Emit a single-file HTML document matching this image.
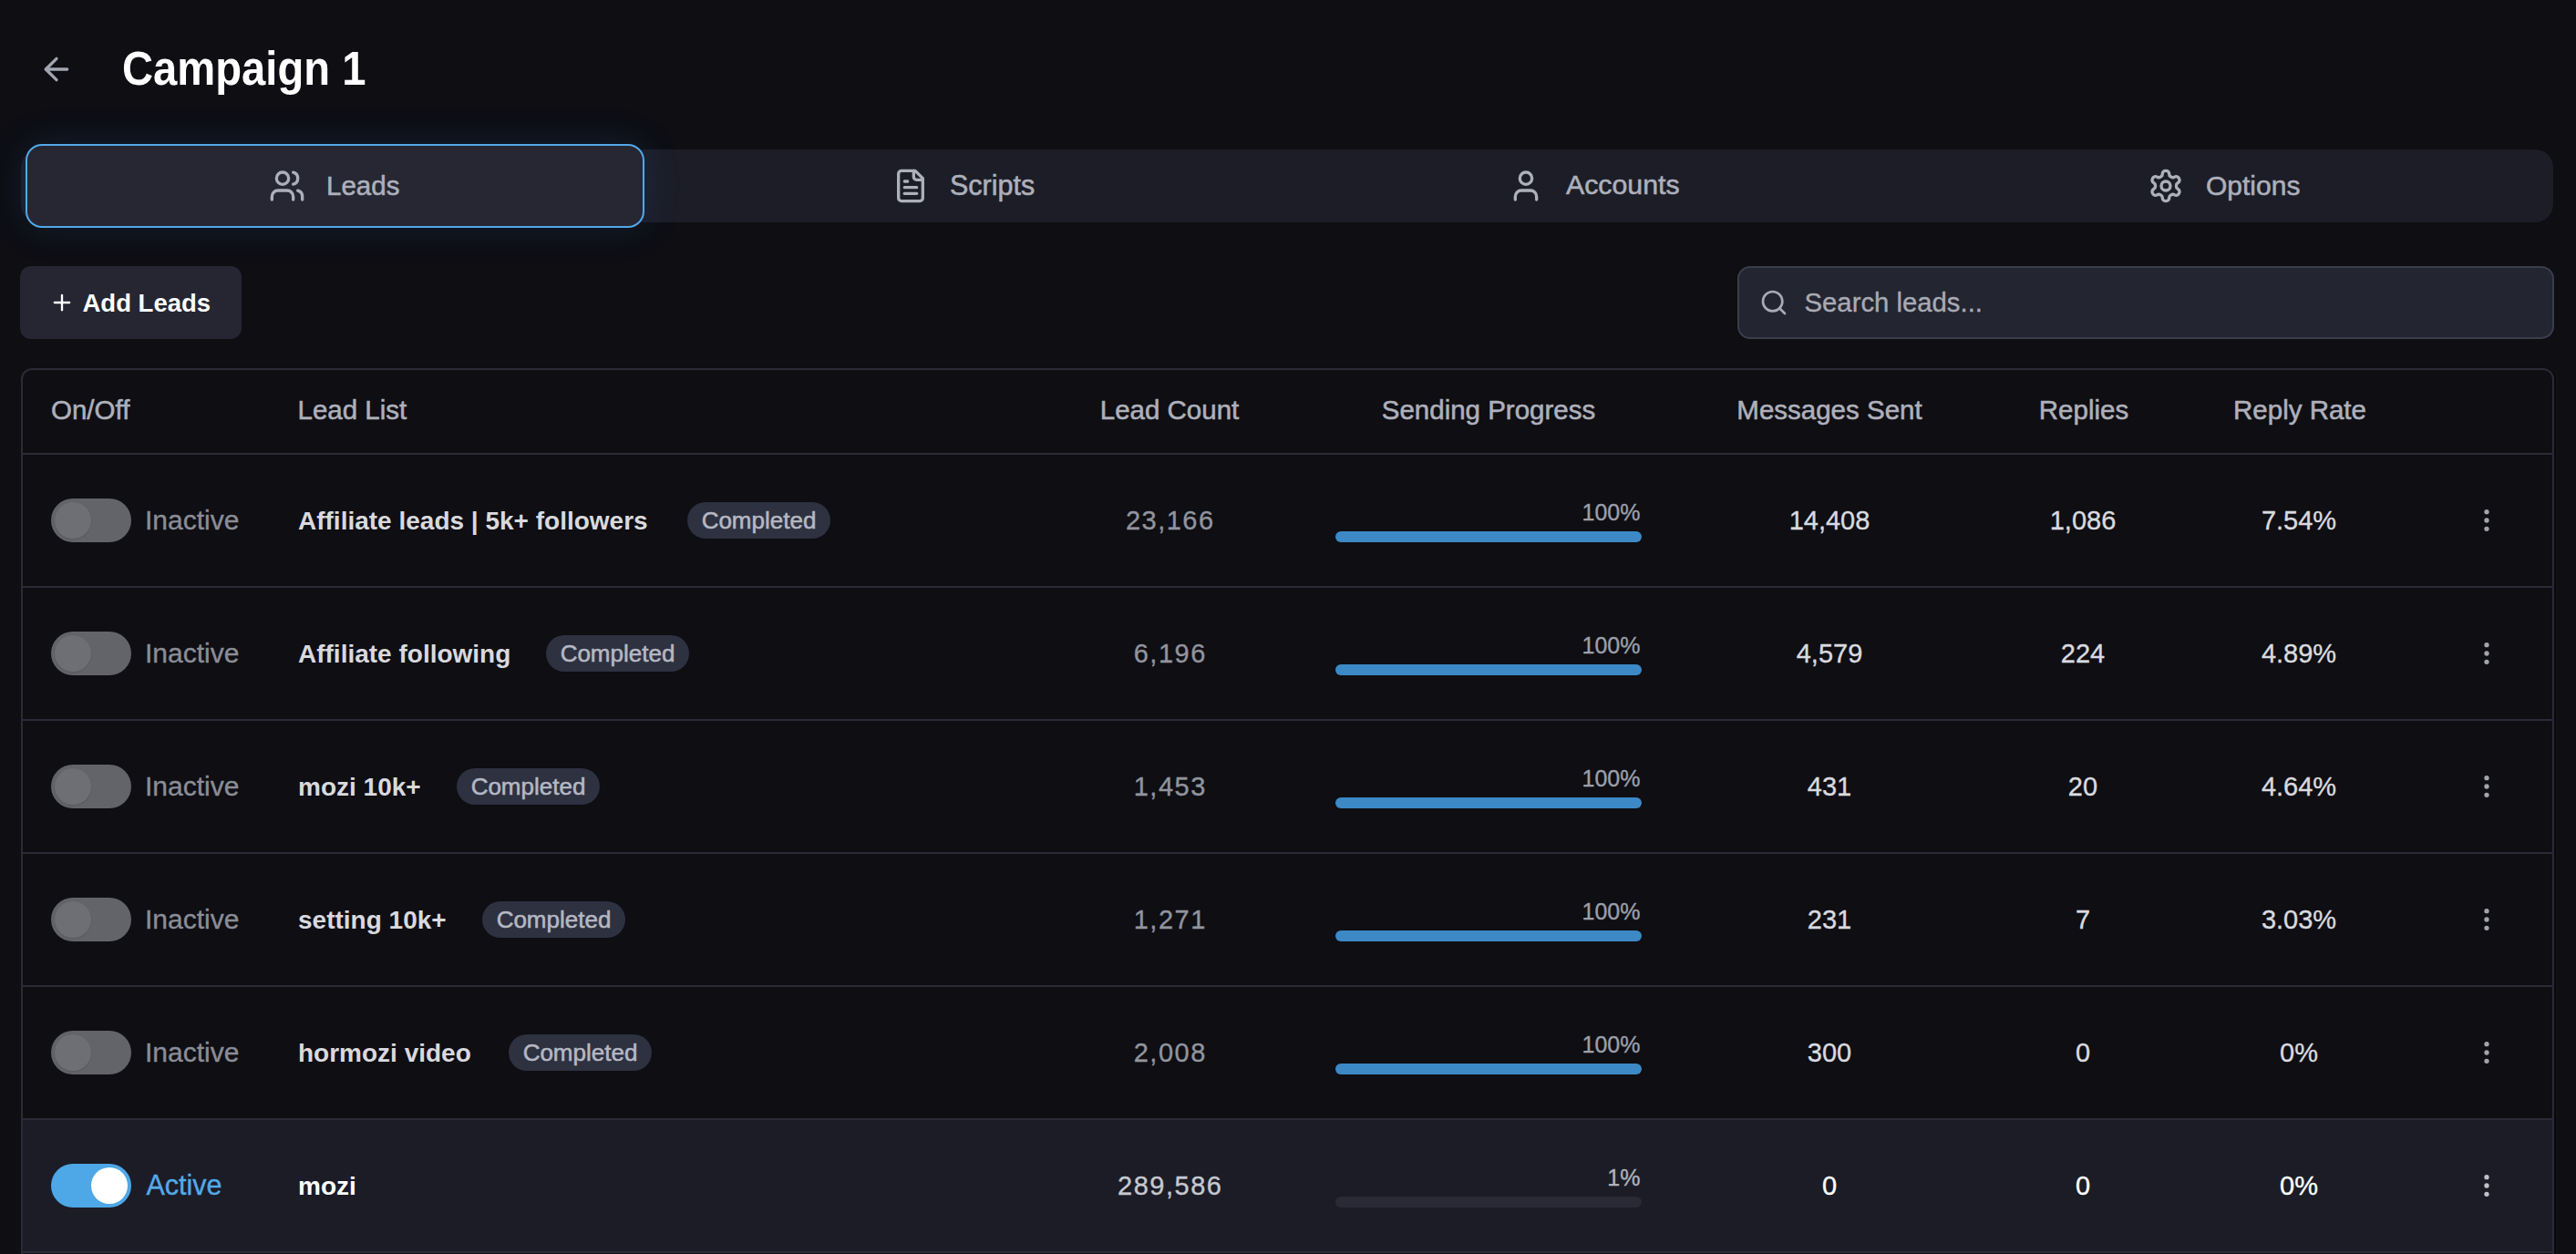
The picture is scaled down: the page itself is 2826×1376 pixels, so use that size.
<!DOCTYPE html>
<html><head><meta charset="utf-8"><title>Campaign 1</title><style>
*{box-sizing:border-box;margin:0;padding:0}
html,body{width:2826px;height:1376px;overflow:hidden;background:#0e0e13;font-family:"Liberation Sans",sans-serif}
.a{position:absolute;white-space:pre;line-height:1}
.ic{position:absolute;fill:none;stroke-linecap:round;stroke-linejoin:round}
</style></head>
<body>
<svg class="ic" style="left:41.5px;top:56px" width="40" height="40" viewBox="0 0 24 24" stroke="#a3a5b0" stroke-width="2"><path d="m12 19-7-7 7-7"/><path d="M19 12H5"/></svg>
<div class="a" style="left:134.0px;top:53.3px;font-size:47.2px;color:#ffffff;font-weight:700;transform:scaleY(1.08);transform-origin:0 39.6px;">Campaign 1</div>
<div style="position:absolute;left:23px;top:164px;width:2778px;height:80px;border-radius:20px;background:#1c1d27"></div>
<div style="position:absolute;left:28px;top:158px;width:679px;height:92px;border-radius:18px;background:#262733;border:2.5px solid #53a8e8;box-shadow:0 0 40px rgba(40,110,200,0.18)"></div>
<svg class="ic" style="left:295px;top:183.5px" width="40" height="40" viewBox="0 0 24 24" stroke="#adb0bb" stroke-width="2"><path d="M16 21v-2a4 4 0 0 0-4-4H6a4 4 0 0 0-4 4v2"/><circle cx="9" cy="7" r="4"/><path d="M22 21v-2a4 4 0 0 0-3-3.87"/><path d="M16 3.13a4 4 0 0 1 0 7.75"/></svg>
<div class="a" style="left:358.0px;top:189.0px;font-size:29.5px;color:#adb0bb;font-weight:400;-webkit-text-stroke:0.55px currentColor;">Leads</div>
<svg class="ic" style="left:979px;top:183.5px" width="40" height="40" viewBox="0 0 24 24" stroke="#adb0bb" stroke-width="2"><path d="M15 2H6a2 2 0 0 0-2 2v16a2 2 0 0 0 2 2h12a2 2 0 0 0 2-2V7Z"/><path d="M14 2v4a2 2 0 0 0 2 2h4"/><path d="M10 9H8"/><path d="M16 13H8"/><path d="M16 17H8"/></svg>
<div class="a" style="left:1042.0px;top:188.2px;font-size:30.5px;color:#adb0bb;font-weight:400;-webkit-text-stroke:0.55px currentColor;">Scripts</div>
<svg class="ic" style="left:1654px;top:183.5px" width="40" height="40" viewBox="0 0 24 24" stroke="#adb0bb" stroke-width="2"><path d="M19 21v-2a4 4 0 0 0-4-4H9a4 4 0 0 0-4 4v2"/><circle cx="12" cy="7" r="4"/></svg>
<div class="a" style="left:1718.0px;top:188.4px;font-size:30.3px;color:#adb0bb;font-weight:400;-webkit-text-stroke:0.55px currentColor;">Accounts</div>
<svg class="ic" style="left:2356px;top:183.5px" width="40" height="40" viewBox="0 0 24 24" stroke="#adb0bb" stroke-width="2"><path d="M12.22 2h-.44a2 2 0 0 0-2 2v.18a2 2 0 0 1-1 1.73l-.43.25a2 2 0 0 1-2 0l-.15-.08a2 2 0 0 0-2.73.73l-.22.38a2 2 0 0 0 .73 2.73l.15.1a2 2 0 0 1 1 1.72v.51a2 2 0 0 1-1 1.74l-.15.09a2 2 0 0 0-.73 2.73l.22.38a2 2 0 0 0 2.730.73l.15-.08a2 2 0 0 1 2 0l.43.25a2 2 0 0 1 1 1.73V20a2 2 0 0 0 2 2h.44a2 2 0 0 0 2-2v-.18a2 2 0 0 1 1-1.73l.43-.25a2 2 0 0 1 2 0l.15.08a2 2 0 0 0 2.73-.73l.22-.39a2 2 0 0 0-.73-2.73l-.15-.08a2 2 0 0 1-1-1.74v-.5a2 2 0 0 1 1-1.74l.15-.09a2 2 0 0 0 .73-2.73l-.22-.38a2 2 0 0 0-2.73-.73l-.15.08a2 2 0 0 1-2 0l-.43-.25a2 2 0 0 1-1-1.73V4a2 2 0 0 0-2-2z"/><circle cx="12" cy="12" r="3"/></svg>
<div class="a" style="left:2420.0px;top:188.6px;font-size:30px;color:#adb0bb;font-weight:400;-webkit-text-stroke:0.55px currentColor;">Options</div>
<div style="position:absolute;left:22px;top:292px;width:243px;height:80px;border-radius:12px;background:#252632"></div>
<svg class="ic" style="left:53.8px;top:318px" width="28" height="28" viewBox="0 0 24 24" stroke="#ffffff" stroke-width="2"><path d="M5 12h14"/><path d="M12 5v14"/></svg>
<div class="a" style="left:90.5px;top:318.9px;font-size:27.5px;color:#ffffff;font-weight:700;">Add Leads</div>
<div style="position:absolute;left:1906px;top:292px;width:896px;height:80px;border-radius:14px;background:#232530;border:2px solid #3a3d4b"></div>
<svg class="ic" style="left:1930px;top:316px" width="32" height="32" viewBox="0 0 24 24" stroke="#a8aab5" stroke-width="2"><circle cx="11" cy="11" r="8"/><path d="m21 21-4.3-4.3"/></svg>
<div class="a" style="left:1979.5px;top:317.3px;font-size:29.3px;color:#a8aab5;font-weight:400;-webkit-text-stroke:0.35px currentColor;">Search leads...</div>
<div style="position:absolute;left:23px;top:404px;width:2779px;height:990px;border-radius:12px;border:2px solid #2a2b36;box-shadow:2px 0 0 #09090c,4px 0 0 #121216"></div>
<div class="a" style="left:56.0px;top:435.2px;font-size:29.5px;color:#aeb0bb;font-weight:400;-webkit-text-stroke:0.55px currentColor;">On/Off</div>
<div class="a" style="left:326.5px;top:435.2px;font-size:29.5px;color:#aeb0bb;font-weight:400;-webkit-text-stroke:0.55px currentColor;">Lead List</div>
<div class="a" style="left:783.0px;width:1000px;text-align:center;top:435.2px;font-size:29.5px;color:#aeb0bb;font-weight:400;-webkit-text-stroke:0.55px currentColor;">Lead Count</div>
<div class="a" style="left:1133.0px;width:1000px;text-align:center;top:435.2px;font-size:29.5px;color:#aeb0bb;font-weight:400;-webkit-text-stroke:0.55px currentColor;">Sending Progress</div>
<div class="a" style="left:1507.0px;width:1000px;text-align:center;top:435.2px;font-size:29.5px;color:#aeb0bb;font-weight:400;-webkit-text-stroke:0.55px currentColor;">Messages Sent</div>
<div class="a" style="left:1786.0px;width:1000px;text-align:center;top:435.2px;font-size:29.5px;color:#aeb0bb;font-weight:400;-webkit-text-stroke:0.55px currentColor;">Replies</div>
<div class="a" style="left:2023.0px;width:1000px;text-align:center;top:435.2px;font-size:29.5px;color:#aeb0bb;font-weight:400;-webkit-text-stroke:0.55px currentColor;">Reply Rate</div>
<div style="position:absolute;left:24px;top:497px;width:2777px;height:2px;background:#2a2b36"></div>
<div style="position:absolute;left:56px;top:547px;width:88px;height:48px;border-radius:24px;background:#636469"></div>
<div style="position:absolute;left:60px;top:551px;width:40px;height:40px;border-radius:20px;background:#6e6f74;box-shadow:0 1px 2px rgba(0,0,0,0.12)"></div>
<div class="a" style="left:159.0px;top:555.6px;font-size:30px;color:#8b8d96;font-weight:400;-webkit-text-stroke:0.35px currentColor;">Inactive</div>
<div class="a" style="left:327.0px;top:557.8px;font-size:28px;color:#d9d9de;font-weight:700;">Affiliate leads | 5k+ followers</div>
<div style="position:absolute;left:754px;top:551px;width:157px;height:40px;border-radius:20px;background:#2d3140"></div>
<div class="a" style="left:332.5px;width:1000px;text-align:center;top:557.5px;font-size:26px;color:#b5b8c3;font-weight:400;-webkit-text-stroke:0.55px currentColor;">Completed</div>
<div class="a" style="left:783.0px;width:1000px;text-align:center;top:556.5px;font-size:29px;color:#92949d;font-weight:400;letter-spacing:1.5px;text-indent:1.5px;-webkit-text-stroke:0.35px currentColor;">23,166</div>
<div class="a" style="left:799.5px;width:1000px;text-align:right;top:549.8px;font-size:25px;color:#9c9fa9;font-weight:400;-webkit-text-stroke:0.35px currentColor;">100%</div>
<div style="position:absolute;left:1465px;top:583px;width:336px;height:12px;border-radius:6px;background:#3c89c6"></div>
<div class="a" style="left:1507.0px;width:1000px;text-align:center;top:556.5px;font-size:29px;color:#d9dadf;font-weight:400;-webkit-text-stroke:0.35px currentColor;">14,408</div>
<div class="a" style="left:1785.0px;width:1000px;text-align:center;top:556.5px;font-size:29px;color:#d9dadf;font-weight:400;-webkit-text-stroke:0.35px currentColor;">1,086</div>
<div class="a" style="left:2022.0px;width:1000px;text-align:center;top:556.5px;font-size:29px;color:#d9dadf;font-weight:400;-webkit-text-stroke:0.35px currentColor;">7.54%</div>
<svg class="ic" style="left:2712px;top:555px" width="32" height="32" viewBox="0 0 24 24" stroke="#a2a4ad" stroke-width="2" fill="#a2a4ad"><circle cx="12" cy="12" r="1"/><circle cx="12" cy="5" r="1"/><circle cx="12" cy="19" r="1"/></svg>
<div style="position:absolute;left:24px;top:643px;width:2777px;height:2px;background:#2a2b36"></div>
<div style="position:absolute;left:56px;top:693px;width:88px;height:48px;border-radius:24px;background:#636469"></div>
<div style="position:absolute;left:60px;top:697px;width:40px;height:40px;border-radius:20px;background:#6e6f74;box-shadow:0 1px 2px rgba(0,0,0,0.12)"></div>
<div class="a" style="left:159.0px;top:701.6px;font-size:30px;color:#8b8d96;font-weight:400;-webkit-text-stroke:0.35px currentColor;">Inactive</div>
<div class="a" style="left:327.0px;top:703.8px;font-size:28px;color:#d9d9de;font-weight:700;">Affiliate following</div>
<div style="position:absolute;left:599px;top:697px;width:157px;height:40px;border-radius:20px;background:#2d3140"></div>
<div class="a" style="left:177.5px;width:1000px;text-align:center;top:703.5px;font-size:26px;color:#b5b8c3;font-weight:400;-webkit-text-stroke:0.55px currentColor;">Completed</div>
<div class="a" style="left:783.0px;width:1000px;text-align:center;top:702.5px;font-size:29px;color:#92949d;font-weight:400;letter-spacing:1.5px;text-indent:1.5px;-webkit-text-stroke:0.35px currentColor;">6,196</div>
<div class="a" style="left:799.5px;width:1000px;text-align:right;top:695.8px;font-size:25px;color:#9c9fa9;font-weight:400;-webkit-text-stroke:0.35px currentColor;">100%</div>
<div style="position:absolute;left:1465px;top:729px;width:336px;height:12px;border-radius:6px;background:#3c89c6"></div>
<div class="a" style="left:1507.0px;width:1000px;text-align:center;top:702.5px;font-size:29px;color:#d9dadf;font-weight:400;-webkit-text-stroke:0.35px currentColor;">4,579</div>
<div class="a" style="left:1785.0px;width:1000px;text-align:center;top:702.5px;font-size:29px;color:#d9dadf;font-weight:400;-webkit-text-stroke:0.35px currentColor;">224</div>
<div class="a" style="left:2022.0px;width:1000px;text-align:center;top:702.5px;font-size:29px;color:#d9dadf;font-weight:400;-webkit-text-stroke:0.35px currentColor;">4.89%</div>
<svg class="ic" style="left:2712px;top:701px" width="32" height="32" viewBox="0 0 24 24" stroke="#a2a4ad" stroke-width="2" fill="#a2a4ad"><circle cx="12" cy="12" r="1"/><circle cx="12" cy="5" r="1"/><circle cx="12" cy="19" r="1"/></svg>
<div style="position:absolute;left:24px;top:789px;width:2777px;height:2px;background:#2a2b36"></div>
<div style="position:absolute;left:56px;top:839px;width:88px;height:48px;border-radius:24px;background:#636469"></div>
<div style="position:absolute;left:60px;top:843px;width:40px;height:40px;border-radius:20px;background:#6e6f74;box-shadow:0 1px 2px rgba(0,0,0,0.12)"></div>
<div class="a" style="left:159.0px;top:847.6px;font-size:30px;color:#8b8d96;font-weight:400;-webkit-text-stroke:0.35px currentColor;">Inactive</div>
<div class="a" style="left:327.0px;top:849.8px;font-size:28px;color:#d9d9de;font-weight:700;">mozi 10k+</div>
<div style="position:absolute;left:501px;top:843px;width:157px;height:40px;border-radius:20px;background:#2d3140"></div>
<div class="a" style="left:79.5px;width:1000px;text-align:center;top:849.5px;font-size:26px;color:#b5b8c3;font-weight:400;-webkit-text-stroke:0.55px currentColor;">Completed</div>
<div class="a" style="left:783.0px;width:1000px;text-align:center;top:848.5px;font-size:29px;color:#92949d;font-weight:400;letter-spacing:1.5px;text-indent:1.5px;-webkit-text-stroke:0.35px currentColor;">1,453</div>
<div class="a" style="left:799.5px;width:1000px;text-align:right;top:841.8px;font-size:25px;color:#9c9fa9;font-weight:400;-webkit-text-stroke:0.35px currentColor;">100%</div>
<div style="position:absolute;left:1465px;top:875px;width:336px;height:12px;border-radius:6px;background:#3c89c6"></div>
<div class="a" style="left:1507.0px;width:1000px;text-align:center;top:848.5px;font-size:29px;color:#d9dadf;font-weight:400;-webkit-text-stroke:0.35px currentColor;">431</div>
<div class="a" style="left:1785.0px;width:1000px;text-align:center;top:848.5px;font-size:29px;color:#d9dadf;font-weight:400;-webkit-text-stroke:0.35px currentColor;">20</div>
<div class="a" style="left:2022.0px;width:1000px;text-align:center;top:848.5px;font-size:29px;color:#d9dadf;font-weight:400;-webkit-text-stroke:0.35px currentColor;">4.64%</div>
<svg class="ic" style="left:2712px;top:847px" width="32" height="32" viewBox="0 0 24 24" stroke="#a2a4ad" stroke-width="2" fill="#a2a4ad"><circle cx="12" cy="12" r="1"/><circle cx="12" cy="5" r="1"/><circle cx="12" cy="19" r="1"/></svg>
<div style="position:absolute;left:24px;top:935px;width:2777px;height:2px;background:#2a2b36"></div>
<div style="position:absolute;left:56px;top:985px;width:88px;height:48px;border-radius:24px;background:#636469"></div>
<div style="position:absolute;left:60px;top:989px;width:40px;height:40px;border-radius:20px;background:#6e6f74;box-shadow:0 1px 2px rgba(0,0,0,0.12)"></div>
<div class="a" style="left:159.0px;top:993.6px;font-size:30px;color:#8b8d96;font-weight:400;-webkit-text-stroke:0.35px currentColor;">Inactive</div>
<div class="a" style="left:327.0px;top:995.8px;font-size:28px;color:#d9d9de;font-weight:700;">setting 10k+</div>
<div style="position:absolute;left:529px;top:989px;width:157px;height:40px;border-radius:20px;background:#2d3140"></div>
<div class="a" style="left:107.5px;width:1000px;text-align:center;top:995.5px;font-size:26px;color:#b5b8c3;font-weight:400;-webkit-text-stroke:0.55px currentColor;">Completed</div>
<div class="a" style="left:783.0px;width:1000px;text-align:center;top:994.5px;font-size:29px;color:#92949d;font-weight:400;letter-spacing:1.5px;text-indent:1.5px;-webkit-text-stroke:0.35px currentColor;">1,271</div>
<div class="a" style="left:799.5px;width:1000px;text-align:right;top:987.8px;font-size:25px;color:#9c9fa9;font-weight:400;-webkit-text-stroke:0.35px currentColor;">100%</div>
<div style="position:absolute;left:1465px;top:1021px;width:336px;height:12px;border-radius:6px;background:#3c89c6"></div>
<div class="a" style="left:1507.0px;width:1000px;text-align:center;top:994.5px;font-size:29px;color:#d9dadf;font-weight:400;-webkit-text-stroke:0.35px currentColor;">231</div>
<div class="a" style="left:1785.0px;width:1000px;text-align:center;top:994.5px;font-size:29px;color:#d9dadf;font-weight:400;-webkit-text-stroke:0.35px currentColor;">7</div>
<div class="a" style="left:2022.0px;width:1000px;text-align:center;top:994.5px;font-size:29px;color:#d9dadf;font-weight:400;-webkit-text-stroke:0.35px currentColor;">3.03%</div>
<svg class="ic" style="left:2712px;top:993px" width="32" height="32" viewBox="0 0 24 24" stroke="#a2a4ad" stroke-width="2" fill="#a2a4ad"><circle cx="12" cy="12" r="1"/><circle cx="12" cy="5" r="1"/><circle cx="12" cy="19" r="1"/></svg>
<div style="position:absolute;left:24px;top:1081px;width:2777px;height:2px;background:#2a2b36"></div>
<div style="position:absolute;left:56px;top:1131px;width:88px;height:48px;border-radius:24px;background:#636469"></div>
<div style="position:absolute;left:60px;top:1135px;width:40px;height:40px;border-radius:20px;background:#6e6f74;box-shadow:0 1px 2px rgba(0,0,0,0.12)"></div>
<div class="a" style="left:159.0px;top:1139.6px;font-size:30px;color:#8b8d96;font-weight:400;-webkit-text-stroke:0.35px currentColor;">Inactive</div>
<div class="a" style="left:327.0px;top:1141.8px;font-size:28px;color:#d9d9de;font-weight:700;">hormozi video</div>
<div style="position:absolute;left:558px;top:1135px;width:157px;height:40px;border-radius:20px;background:#2d3140"></div>
<div class="a" style="left:136.5px;width:1000px;text-align:center;top:1141.5px;font-size:26px;color:#b5b8c3;font-weight:400;-webkit-text-stroke:0.55px currentColor;">Completed</div>
<div class="a" style="left:783.0px;width:1000px;text-align:center;top:1140.5px;font-size:29px;color:#92949d;font-weight:400;letter-spacing:1.5px;text-indent:1.5px;-webkit-text-stroke:0.35px currentColor;">2,008</div>
<div class="a" style="left:799.5px;width:1000px;text-align:right;top:1133.8px;font-size:25px;color:#9c9fa9;font-weight:400;-webkit-text-stroke:0.35px currentColor;">100%</div>
<div style="position:absolute;left:1465px;top:1167px;width:336px;height:12px;border-radius:6px;background:#3c89c6"></div>
<div class="a" style="left:1507.0px;width:1000px;text-align:center;top:1140.5px;font-size:29px;color:#d9dadf;font-weight:400;-webkit-text-stroke:0.35px currentColor;">300</div>
<div class="a" style="left:1785.0px;width:1000px;text-align:center;top:1140.5px;font-size:29px;color:#d9dadf;font-weight:400;-webkit-text-stroke:0.35px currentColor;">0</div>
<div class="a" style="left:2022.0px;width:1000px;text-align:center;top:1140.5px;font-size:29px;color:#d9dadf;font-weight:400;-webkit-text-stroke:0.35px currentColor;">0%</div>
<svg class="ic" style="left:2712px;top:1139px" width="32" height="32" viewBox="0 0 24 24" stroke="#a2a4ad" stroke-width="2" fill="#a2a4ad"><circle cx="12" cy="12" r="1"/><circle cx="12" cy="5" r="1"/><circle cx="12" cy="19" r="1"/></svg>
<div style="position:absolute;left:24px;top:1227px;width:2777px;height:2px;background:#2a2b36"></div>
<div style="position:absolute;left:25px;top:1229px;width:2775px;height:144px;background:#1b1c26"></div>
<div style="position:absolute;left:56px;top:1277px;width:88px;height:48px;border-radius:24px;background:#4ea7e6"></div>
<div style="position:absolute;left:100px;top:1281px;width:40px;height:40px;border-radius:20px;background:#ffffff"></div>
<div class="a" style="left:160.5px;top:1285.2px;font-size:30.5px;color:#55aae8;font-weight:400;-webkit-text-stroke:0.35px currentColor;">Active</div>
<div class="a" style="left:327.0px;top:1287.8px;font-size:28px;color:#ffffff;font-weight:700;">mozi</div>
<div class="a" style="left:783.0px;width:1000px;text-align:center;top:1286.5px;font-size:29px;color:#c6c8d0;font-weight:400;letter-spacing:1.5px;text-indent:1.5px;-webkit-text-stroke:0.35px currentColor;">289,586</div>
<div class="a" style="left:799.5px;width:1000px;text-align:right;top:1279.8px;font-size:25px;color:#b0b2bb;font-weight:400;-webkit-text-stroke:0.35px currentColor;">1%</div>
<div style="position:absolute;left:1465px;top:1313px;width:336px;height:12px;border-radius:6px;background:#292a36"></div>
<div class="a" style="left:1507.0px;width:1000px;text-align:center;top:1286.5px;font-size:29px;color:#ffffff;font-weight:400;-webkit-text-stroke:0.35px currentColor;">0</div>
<div class="a" style="left:1785.0px;width:1000px;text-align:center;top:1286.5px;font-size:29px;color:#ffffff;font-weight:400;-webkit-text-stroke:0.35px currentColor;">0</div>
<div class="a" style="left:2022.0px;width:1000px;text-align:center;top:1286.5px;font-size:29px;color:#ffffff;font-weight:400;-webkit-text-stroke:0.35px currentColor;">0%</div>
<svg class="ic" style="left:2712px;top:1285px" width="32" height="32" viewBox="0 0 24 24" stroke="#c0c2ca" stroke-width="2" fill="#c0c2ca"><circle cx="12" cy="12" r="1"/><circle cx="12" cy="5" r="1"/><circle cx="12" cy="19" r="1"/></svg>
<div style="position:absolute;left:24px;top:1373px;width:2777px;height:2px;background:#2a2b36"></div>
</body></html>
